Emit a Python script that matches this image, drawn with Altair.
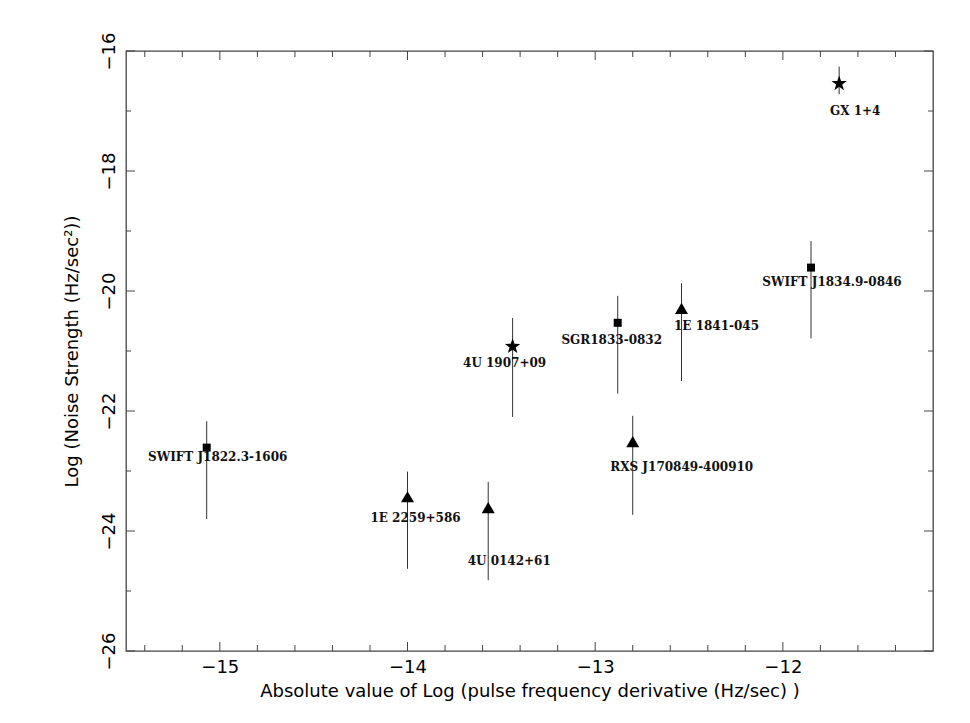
import math
import altair as alt
import pandas as pd

# ---- data ----
names = ["SWIFT J1822.3-1606", "1E 2259+586", "4U 0142+61", "4U 1907+09",
         "SGR1833-0832", "1E 1841-045", "RXS J170849-400910",
         "SWIFT J1834.9-0846", "GX 1+4"]
kinds = ["square", "triangle", "triangle", "star", "square", "triangle",
         "triangle", "square", "star"]
x_vals = [-15.07, -14.00, -13.57, -13.44, -12.88, -12.54, -12.80, -11.85, -11.70]
y_vals = [-22.61, -23.43, -23.61, -20.91, -20.53, -20.29, -22.51, -19.61, -16.53]
y_hi = [-22.17, -23.01, -23.18, -20.45, -20.08, -19.87, -22.08, -19.17, -16.26]
y_lo = [-23.80, -24.63, -24.82, -22.10, -21.71, -21.50, -23.73, -20.79, -16.72]

x_major = [-15, -14, -13, -12]
x_minor = [-15.4, -15.2, -14.8, -14.6, -14.4, -14.2, -13.8, -13.6, -13.4, -13.2,
           -12.8, -12.6, -12.4, -12.2, -11.8, -11.6, -11.4]
y_major = [-26, -24, -22, -20, -18, -16]
y_minor = [-25, -23, -21, -19, -17]

# label offsets in pixels (style)
label_offsets = [(11, 9), (8, 21), (21, 53), (-8, 17), (-6, 17), (35, 18),
                 (49, 25), (21, 14), (16, 28)]

W, H = 807, 600
AX = "#444444"
AXFONT = "DejaVu Sans"

df = pd.DataFrame({"name": names, "kind": kinds, "x": x_vals, "y": y_vals,
                   "hi": y_hi, "lo": y_lo})

xs = alt.Scale(domain=[-15.5, -11.2], nice=False, zero=False)
ys = alt.Scale(domain=[-26, -16], nice=False, zero=False)

xaxis = alt.Axis(orient="bottom", values=x_major, format="d", ticks=False,
                 domain=False, grid=False,
                 labelFont=AXFONT, labelFontSize=18, labelColor="#000",
                 labelPadding=7, labelBaseline="top",
                 title="Absolute value of Log (pulse frequency derivative (Hz/sec) )",
                 titleFont=AXFONT, titleFontSize=18, titleFontWeight="normal",
                 titleColor="#000", titleY=45, titleBaseline="alphabetic")
yaxis = alt.Axis(orient="left", values=y_major, format="d", ticks=False,
                 domain=False, grid=False,
                 labelFont=AXFONT, labelFontSize=18, labelColor="#000",
                 labelAngle=-90, labelAlign="center", labelBaseline="bottom",
                 labelPadding=8,
                 title="Log (Noise Strength (Hz/sec²))",
                 titleFont=AXFONT, titleFontSize=18, titleFontWeight="normal",
                 titleColor="#000", titleAngle=-90, titleX=-49, titleY=300,
                 titleAlign="center", titleBaseline="alphabetic")

def XE(f):
    return alt.X(f, type="quantitative", scale=xs, axis=xaxis)

def YE(f):
    return alt.Y(f, type="quantitative", scale=ys, axis=yaxis)

base = alt.Chart(df)

bars = base.mark_rule(color="#333333", strokeWidth=1).encode(
    x=XE("x"), y=YE("hi"), y2="lo:Q",
)

tri_path = "M-1,0.85L1,0.85L0,-0.85Z"
pts = []
for k in range(10):
    r = 1.0 if k % 2 == 0 else 0.40
    a = math.radians(-90 + 36 * k)
    pts.append(f"{r * math.cos(a):.4f},{r * math.sin(a) + 0.1:.4f}")
star_path = "M" + "L".join(pts) + "Z"

squares = base.transform_filter(alt.datum.kind == "square").mark_point(
    shape="square", filled=True, color="#000", opacity=1, size=64
).encode(x=XE("x"), y=YE("y"))
triangles = base.transform_filter(alt.datum.kind == "triangle").mark_point(
    shape=tri_path, filled=True, color="#000", opacity=1, size=169
).encode(x=XE("x"), y=YE("y"))
stars = base.transform_filter(alt.datum.kind == "star").mark_point(
    shape=star_path, filled=True, color="#000", opacity=1, size=260
).encode(x=XE("x"), y=YE("y"))

labels = []
for nm, (dx, dy) in zip(names, label_offsets):
    labels.append(
        base.transform_filter(alt.datum.name == nm).mark_text(
            font="DejaVu Serif", fontSize=12, fontWeight="bold", color="#111",
            align="center", baseline="middle", dx=dx, dy=dy
        ).encode(x=XE("x"), y=YE("y"), text="name:N")
    )

# inward tick marks on all four sides
xmaj = pd.DataFrame({"v": x_major})
xmin = pd.DataFrame({"v": x_minor})
ymaj = pd.DataFrame({"v": y_major})
ymin = pd.DataFrame({"v": y_minor})

def xticks(d, L):
    return [
        alt.Chart(d).mark_rule(color=AX, strokeWidth=1).encode(
            x=XE("v"), y=alt.value(H), y2=alt.value(H - L)),
        alt.Chart(d).mark_rule(color=AX, strokeWidth=1).encode(
            x=XE("v"), y=alt.value(0), y2=alt.value(L)),
    ]

def yticks(d, L):
    return [
        alt.Chart(d).mark_rule(color=AX, strokeWidth=1).encode(
            y=YE("v"), x=alt.value(0), x2=alt.value(L)),
        alt.Chart(d).mark_rule(color=AX, strokeWidth=1).encode(
            y=YE("v"), x=alt.value(W), x2=alt.value(W - L)),
    ]

ticks = xticks(xmaj, 9) + xticks(xmin, 6) + yticks(ymaj, 9) + yticks(ymin, 5)

chart = alt.layer(bars, *ticks, squares, triangles, stars, *labels).properties(
    width=W, height=H,
    autosize=alt.AutoSizeParams(type="none"),
    padding={"left": 126, "top": 51, "right": 37, "bottom": 72},
    background="#ffffff",
).configure_view(stroke=AX, strokeWidth=1.3)

chart.save("out.html", embed_options={"renderer": "svg", "actions": False})
